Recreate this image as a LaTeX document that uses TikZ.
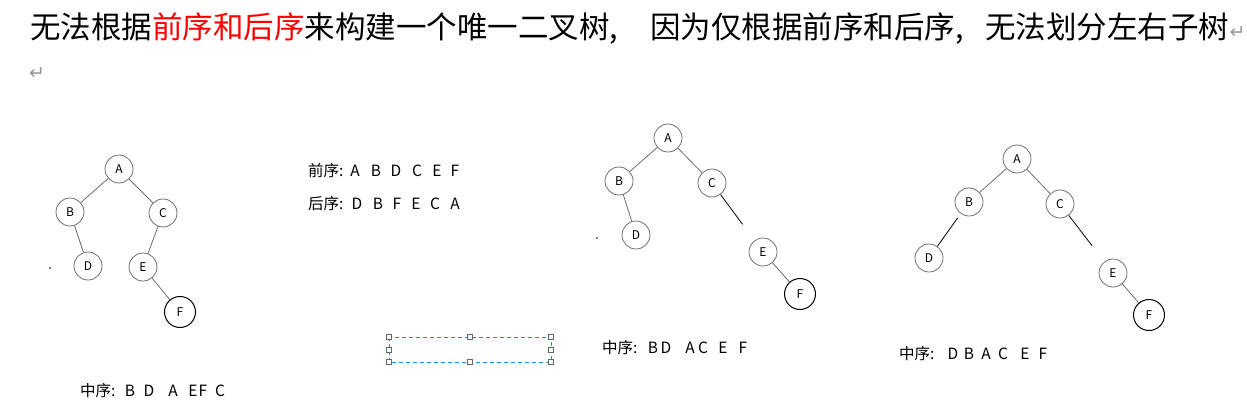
\documentclass[tikz,border=0pt]{standalone}
\usepackage{fontspec}
\usetikzlibrary{positioning}
\setmainfont{Noto Sans CJK SC}
\newfontfamily\symfont{DejaVu Sans}
\definecolor{markgray}{RGB}{150,150,150}
\definecolor{selblue}{RGB}{30,140,220}
\definecolor{treegray}{RGB}{110,110,110}
\tikzset{
  tnode/.style={circle,draw=treegray,line width=0.8pt,minimum size=28pt,inner sep=0pt,font=\fontsize{12}{12}\selectfont},
  fnode/.style={tnode,draw=black,minimum size=31pt,line width=1pt},
  edge/.style={draw=treegray,line width=0.8pt},
  cut/.style={draw=black,line width=0.8pt,shorten >=20pt},
  titletext/.style={anchor=base west,inner sep=0pt,font=\fontsize{30.5}{31}\selectfont},
  seqtext/.style={anchor=base west,inner sep=0pt,font=\fontsize{15.5}{16}\selectfont},
  letter/.style={anchor=base,inner sep=0pt,font=\fontsize{15.5}{16}\selectfont},
  retmark/.style={inner sep=0pt,text=markgray,font=\symfont\fontsize{19}{19}\selectfont},
  handle/.style={draw=gray!80!black,fill=white,line width=0.7pt,minimum size=5pt,inner sep=0pt}
}
\begin{document}
\begin{tikzpicture}[x=1pt,y=-1pt]
  \useasboundingbox (0,0) rectangle (1247,412);

  \node[titletext] (title1) at (30,38) {无法根据\textcolor{red}{前序和后序}来构建一个唯一二叉树,};
  \node[titletext] (title2) at (650,38) {因为仅根据前序和后序,};
  \node[titletext] (title3) at (985,38) {无法划分左右子树};
  \node[retmark,anchor=base west] (ret1) at (title3.base east) {↵};
  \node[retmark,anchor=base west] (ret2) at (29,80) {↵};

  \node[tnode] (a1) at (119,169) {A};
  \node[tnode] (b1) at (70,212) {B};
  \node[tnode] (c1) at (163,213) {C};
  \node[tnode] (d1) at (88,266) {D};
  \node[tnode] (e1) at (143,267) {E};
  \node[fnode] (f1) at (180,312) {F};
  \draw[edge] (a1) -- (b1);
  \draw[edge] (a1) -- (c1);
  \draw[edge] (b1) -- (d1);
  \draw[edge] (c1) -- (e1);
  \draw[edge] (e1) -- (f1);
  \fill (50,268) circle (0.9pt);
  \node[seqtext] (in1) at (80,396) {中序:};
  \foreach \x/\t in {130/B,149/D,173/A,193/E,203/F,220/C}
  \node[letter] (in1-\t) at (\x,396) {\t};

  \node[seqtext] (pre) at (308,176) {前序:};
  \foreach \x/\t in {355/A,376/B,396/D,417/C,437/E,455/F}
  \node[letter] (pre-\t) at (\x,176) {\t};
  \node[seqtext] (post) at (308,209) {后序:};
  \foreach \x/\t in {357/D,378/B,397/F,416/E,435/C,455/A}
  \node[letter] (post-\t) at (\x,209) {\t};

  \draw[selblue,line width=1pt,dash pattern=on 4pt off 3pt] (389,337) rectangle (551,362);
  \foreach \x/\y in {389/337,470/337,551/337,389/350,551/350,389/362,470/362,551/362}
  \node[handle] at (\x,\y) {};

  \node[tnode] (a2) at (668,138) {A};
  \node[tnode] (b2) at (619,181) {B};
  \node[tnode] (c2) at (712,183) {C};
  \node[tnode] (d2) at (636,235) {D};
  \node[tnode] (e2) at (763,252) {E};
  \node[fnode] (f2) at (800,294) {F};
  \draw[edge] (a2) -- (b2);
  \draw[edge] (a2) -- (c2);
  \draw[edge] (b2) -- (d2);
  \draw[cut] (c2) -- (e2);
  \draw[edge] (e2) -- (f2);
  \fill (597,238) circle (0.9pt);
  \node[seqtext] (in2) at (602,353) {中序:};
  \foreach \x/\t in {653/B,666/D,690/A,703/C,723/E,743/F}
  \node[letter] (in2-\t) at (\x,353) {\t};

  \node[tnode] (a3) at (1017,159) {A};
  \node[tnode] (b3) at (969,202) {B};
  \node[tnode] (c3) at (1060,204) {C};
  \node[tnode] (d3) at (929,258) {D};
  \node[tnode] (e3) at (1113,273) {E};
  \node[fnode] (f3) at (1149,315) {F};
  \draw[edge] (a3) -- (b3);
  \draw[edge] (a3) -- (c3);
  \draw[draw=black,line width=0.8pt,shorten >=5pt] (d3) -- (b3);
  \draw[cut] (c3) -- (e3);
  \draw[edge] (e3) -- (f3);
  \node[seqtext] (in3) at (899,359) {中序:};
  \foreach \x/\t in {953/D,969/B,986/A,1003/C,1025/E,1043/F}
  \node[letter] (in3-\t) at (\x,359) {\t};
\end{tikzpicture}
\end{document}
